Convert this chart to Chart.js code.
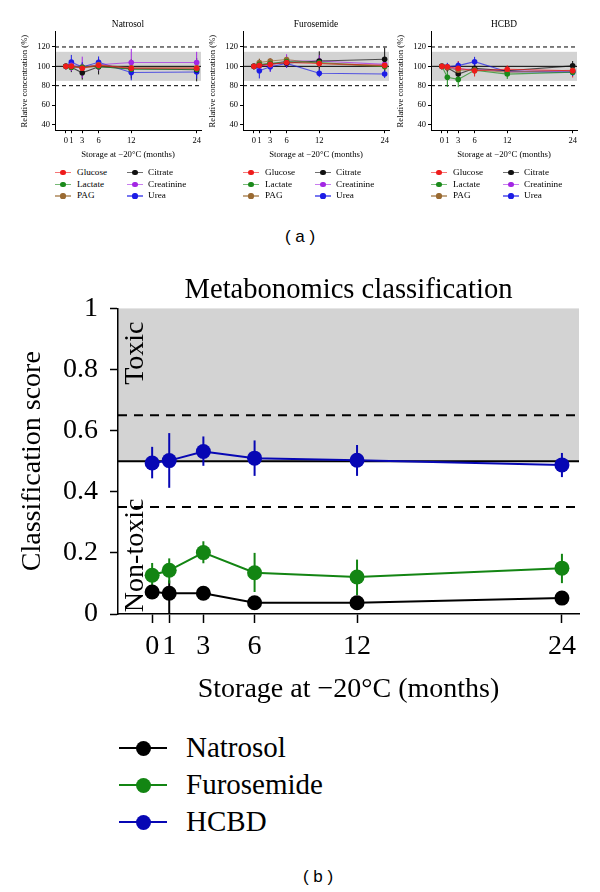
<!DOCTYPE html>
<html>
<head>
<meta charset="utf-8">
<script src="https://cdn.jsdelivr.net/npm/chart.js@4.4.0/dist/chart.umd.min.js"></script>
<style>
  body { margin: 0; background: #fff; }
  #fig { position: relative; width: 600px; height: 892px; overflow: hidden; font-family: "Liberation Serif", "DejaVu Serif", serif; color: #000; }
  canvas { position: absolute; }
  .tag { position: absolute; font-family: "Liberation Sans", Arial, sans-serif; font-size: 17px; transform: translate(-50%, -50%); white-space: pre; }
</style>
</head>
<body>
<div id="fig">
  <canvas id="natrosol" width="205" height="163" style="left:0;top:0"></canvas>
  <canvas id="furosemide" width="205" height="163" style="left:188px;top:0"></canvas>
  <canvas id="hcbd" width="205" height="163" style="left:376px;top:0"></canvas>
  <canvas id="classification" width="600" height="437" style="left:0;top:270px"></canvas>
  <div class="tag" style="left:300px;top:237px">( a )</div>
  <div class="tag" style="left:318px;top:877px">( b )</div>
</div>
<script>
const months = [0, 1, 3, 6, 12, 24];
const metabolites = ['Glucose', 'Lactate', 'PAG', 'Citrate', 'Creatinine', 'Urea'];
const metaboliteColours = ['#ee1b1b', '#1b8a1b', '#9a6a32', '#111111', '#a326e4', '#1c1ce6'];
const concTicks = [40, 60, 80, 100, 120];

// (a) relative concentration (%), one array per metabolite, +/- error
const natGlucose    = [100, 100, 98, 101, 98, 98];
const natLactate    = [100, 99, 99, 100, 97, 97];
const natPAG        = [100, 100, 99, 101.5, 98.5, 98.5];
const natCitrate    = [100, 99, 93.3, 99.6, 97.5, 96.5];
const natCreatinine = [100, 101, 99, 101.7, 104, 104];
const natUrea       = [100, 104.3, 99.3, 104.2, 93.6, 94.2];
const natErr = [[0, 3, 4, 4, 5, 5], [0, 3, 4, 4, 5, 5], [0, 3, 4, 4, 6, 6],
                [0, 5, 7, 8, 10, 12], [0, 6, 11, 6, 14, 11], [0, 7.5, 5, 6, 8, 7]];

const furGlucose    = [100, 101, 102, 104, 103, 101];
const furLactate    = [100, 102, 103, 105, 104, 100];
const furPAG        = [100, 104, 105.5, 107, 103, 99.7];
const furCitrate    = [100, 101, 103, 103.5, 105.5, 107.3];
const furCreatinine = [100, 100.7, 101.3, 105.5, 105.5, 102];
const furUrea       = [100, 95.5, 99.6, 103, 92.8, 92];
const furErr = [[0, 3, 4, 4, 5, 5], [0, 4, 4, 4, 5, 5], [0, 4, 3, 4, 4, 5],
                [0, 6, 4, 5, 10, 12], [0, 5, 7, 7, 6, 5], [0, 8, 5, 4, 4, 4]];

const hcbGlucose    = [100, 99.6, 98, 95.5, 97, 95.5];
const hcbLactate    = [100, 88.7, 86.5, 96, 92, 94];
const hcbPAG        = [100, 98.5, 96, 96.5, 94, 96];
const hcbCitrate    = [100, 98.6, 92, 98, 95.5, 100.5];
const hcbCreatinine = [100, 99, 97, 97, 95, 95];
const hcbUrea       = [100, 99.6, 100.7, 104.8, 94.5, 94];
const hcbErr = [[0, 3, 7.5, 6, 4, 7], [0, 10, 8, 4, 5, 4], [0, 3, 4, 4, 4, 4],
                [0, 4, 5, 5, 4, 5], [0, 3, 4, 4, 4, 4], [0, 4, 4, 5, 4, 4]];

// (b) classification score
const groups = ['Natrosol', 'Furosemide', 'HCBD'];
const groupColours = ['#000000', '#138513', '#0707b4'];
const natrosolScore = [0.072, 0.068, 0.068, 0.037, 0.037, 0.052];
const natrosolLow   = [0.058, 0.0, 0.056, 0.029, 0.029, 0.042];
const natrosolHigh  = [0.086, 0.11, 0.08, 0.045, 0.045, 0.062];
const furosemideScore = [0.127, 0.143, 0.201, 0.135, 0.121, 0.150];
const furosemideLow   = [0.090, 0.100, 0.166, 0.072, 0.062, 0.101];
const furosemideHigh  = [0.167, 0.182, 0.238, 0.200, 0.178, 0.197];
const hcbdScore = [0.494, 0.502, 0.532, 0.510, 0.503, 0.488];
const hcbdLow   = [0.444, 0.413, 0.485, 0.452, 0.452, 0.448];
const hcbdHigh  = [0.547, 0.592, 0.581, 0.568, 0.553, 0.527];
const scoreTicks = [0, 0.2, 0.4, 0.6, 0.8, 1];

const SERIF = '"Liberation Serif", "DejaVu Serif", serif';
Chart.defaults.animation = false;
Chart.defaults.color = '#000';

function fade(hex, a) {
  const n = parseInt(hex.slice(1), 16);
  return `rgba(${n >> 16},${(n >> 8) & 255},${n & 255},${a})`;
}

// gray band, reference lines, error bars, region labels
const refs = {
  id: 'refs',
  beforeDraw(chart, args, o) {
    const {ctx, chartArea: a, scales: {y}} = chart;
    ctx.save();
    ctx.fillStyle = '#d3d3d3';
    const t = y.getPixelForValue(o.band[1]), b = y.getPixelForValue(o.band[0]);
    ctx.fillRect(a.left, t, a.right - a.left, b - t);
    ctx.strokeStyle = '#000';
    ctx.lineWidth = o.lineWidth;
    ctx.setLineDash(o.dash);
    o.dashed.forEach(v => {
      const p = y.getPixelForValue(v);
      ctx.beginPath(); ctx.moveTo(a.left, p); ctx.lineTo(a.right, p); ctx.stroke();
    });
    ctx.setLineDash([]);
    const s = y.getPixelForValue(o.solid);
    ctx.beginPath(); ctx.moveTo(a.left, s); ctx.lineTo(a.right, s); ctx.stroke();
    (o.labels || []).forEach(l => {
      ctx.save();
      ctx.translate(a.left + l.dx, y.getPixelForValue(l.at));
      ctx.rotate(-Math.PI / 2);
      ctx.font = o.labelFont;
      ctx.fillStyle = '#000';
      ctx.textAlign = 'left';
      ctx.textBaseline = 'alphabetic';
      ctx.fillText(l.text, 0, 0);
      ctx.restore();
    });
    ctx.restore();
  },
  beforeDatasetsDraw(chart, args, o) {
    const {ctx, scales: {y}} = chart;
    ctx.save();
    chart.data.datasets.forEach((ds, i) => {
      const meta = chart.getDatasetMeta(i);
      ctx.strokeStyle = ds.backgroundColor;
      ctx.lineWidth = o.errWidth;
      meta.data.forEach((pt, j) => {
        if (ds.errHigh[j] === ds.errLow[j]) return;
        ctx.beginPath();
        ctx.moveTo(pt.x, y.getPixelForValue(ds.errLow[j]));
        ctx.lineTo(pt.x, y.getPixelForValue(ds.errHigh[j]));
        ctx.stroke();
      });
    });
    ctx.restore();
  }
};

function addKey(o) {
  const fig = document.getElementById('fig');
  const line = document.createElement('div');
  line.style.cssText = `position:absolute;left:${o.x}px;top:${o.y - o.lw / 2}px;width:${o.len}px;height:${o.lw}px;background:${o.line}`;
  const dot = document.createElement('div');
  dot.style.cssText = `position:absolute;left:${o.x + o.len / 2 - o.r}px;top:${o.y - o.r}px;width:${2 * o.r}px;height:${2 * o.r}px;border-radius:50%;background:${o.colour}`;
  const txt = document.createElement('div');
  txt.style.cssText = `position:absolute;left:${o.tx}px;top:${o.y}px;transform:translateY(-52%);font-size:${o.size}px;line-height:1;white-space:nowrap`;
  txt.textContent = o.text;
  fig.append(line, dot, txt);
}

function panel(id, left, title, values, errors) {
  new Chart(id, {
    type: 'line',
    data: {
      datasets: metabolites.map((m, i) => ({
        label: m,
        data: months.map((x, j) => ({x, y: values[i][j]})),
        errLow: values[i].map((v, j) => v - errors[i][j]),
        errHigh: values[i].map((v, j) => v + errors[i][j]),
        borderColor: fade(metaboliteColours[i], 0.7),
        backgroundColor: metaboliteColours[i],
        borderWidth: 1.1,
        pointRadius: 2.8,
        pointBorderWidth: 0,
        tension: 0
      }))
    },
    options: {
      responsive: false,
      devicePixelRatio: 1,
      layout: {padding: {right: 3}},
      plugins: {
        legend: {display: false},
        tooltip: {enabled: false},
        title: {display: true, text: title, fullSize: false, color: '#000',
                font: {family: SERIF, size: 9.4, weight: 'normal'}, padding: {top: 19, bottom: 1.7}},
        refs: {band: [85, 115], dashed: [80, 120], solid: 100, dash: [4, 3], lineWidth: 1, errWidth: 1}
      },
      scales: {
        x: {
          type: 'linear', min: -2, max: 24.8,
          afterBuildTicks: s => { s.ticks = months.map(v => ({value: v})); },
          afterFit: s => { s.height = 32.8; },
          ticks: {autoSkip: false, maxRotation: 0, padding: 2.7, font: {family: SERIF, size: 8.5}},
          grid: {drawOnChartArea: false, tickLength: 3, color: '#000'},
          border: {color: '#000', width: 1},
          title: {display: true, text: 'Storage at −20°C (months)', font: {family: SERIF, size: 8.7},
                  padding: {top: 0, bottom: 2.8}}
        },
        y: {
          min: 34, max: 135.5,
          afterBuildTicks: s => { s.ticks = concTicks.map(v => ({value: v})); },
          afterFit: s => { s.width = 55; },
          ticks: {padding: 2, font: {family: SERIF, size: 8.5}},
          grid: {drawOnChartArea: false, tickLength: 3, color: '#000'},
          border: {color: '#000', width: 1},
          title: {display: true, text: 'Relative concentration (%)', font: {family: SERIF, size: 8.6},
                  padding: {top: 19.8, bottom: 0}}
        }
      }
    },
    plugins: [refs]
  });
  const rows = [172.7, 184.5, 196];
  metabolites.forEach((m, i) => {
    const col = i < 3 ? 0 : 1, row = i % 3;
    addKey({x: left + (col ? 127 : 55), y: rows[row], len: 16, lw: 1.2, r: 2.6,
            line: fade(metaboliteColours[i], 0.6), colour: metaboliteColours[i],
            tx: left + (col ? 148 : 77), text: m, size: 9.2});
  });
}

panel('natrosol', 0, 'Natrosol',
  [natGlucose, natLactate, natPAG, natCitrate, natCreatinine, natUrea], natErr);
panel('furosemide', 188, 'Furosemide',
  [furGlucose, furLactate, furPAG, furCitrate, furCreatinine, furUrea], furErr);
panel('hcbd', 376, 'HCBD',
  [hcbGlucose, hcbLactate, hcbPAG, hcbCitrate, hcbCreatinine, hcbUrea], hcbErr);

const scores = [natrosolScore, furosemideScore, hcbdScore];
const lows = [natrosolLow, furosemideLow, hcbdLow];
const highs = [natrosolHigh, furosemideHigh, hcbdHigh];

new Chart('classification', {
  type: 'line',
  data: {
    datasets: groups.map((g, i) => ({
      label: g,
      data: months.map((x, j) => ({x, y: scores[i][j]})),
      errLow: lows[i],
      errHigh: highs[i],
      borderColor: groupColours[i],
      backgroundColor: groupColours[i],
      borderWidth: 2,
      pointRadius: 7.5,
      pointBorderWidth: 0,
      tension: 0
    }))
  },
  options: {
    responsive: false,
    devicePixelRatio: 1,
    layout: {padding: {right: 21}},
    plugins: {
      legend: {display: false},
      tooltip: {enabled: false},
      title: {display: true, text: 'Metabonomics classification', fullSize: false, color: '#000',
              font: {family: SERIF, size: 28.6, weight: 'normal'}, padding: {top: 3.2, bottom: 0.9}},
      refs: {band: [0.5, 1], dashed: [0.35, 0.65], solid: 0.5, dash: [9, 7], lineWidth: 2, errWidth: 2,
             labelFont: `28px ${SERIF}`,
             labels: [{text: 'Toxic', at: 0.75, dx: 25}, {text: 'Non-toxic', at: 0.006, dx: 25}]}
    },
    scales: {
      x: {
        type: 'linear', min: -2, max: 25,
        afterBuildTicks: s => { s.ticks = months.map(v => ({value: v})); },
        afterFit: s => { s.height = 93; },
        ticks: {autoSkip: false, maxRotation: 0, padding: 7, font: {family: SERIF, size: 28}},
        grid: {drawOnChartArea: false, tickLength: 9, tickWidth: 1.5, color: '#000'},
        border: {color: '#000', width: 1.5},
        title: {display: true, text: 'Storage at −20°C (months)', font: {family: SERIF, size: 28},
                padding: {top: 0, bottom: 0.2}}
      },
      y: {
        min: 0, max: 1,
        afterBuildTicks: s => { s.ticks = scoreTicks.map(v => ({value: v})); },
        afterFit: s => { s.width = 118; },
        ticks: {padding: 12, font: {family: SERIF, size: 28}, callback: v => String(Math.round(v * 10) / 10)},
        grid: {drawOnChartArea: false, tickLength: 8, tickWidth: 1.5, color: '#000'},
        border: {color: '#000', width: 1.5},
        title: {display: true, text: 'Classification score', font: {family: SERIF, size: 28},
                padding: {top: 16, bottom: 0}}
      }
    }
  },
  plugins: [refs]
});

const keyRows = [748, 785, 822];
groups.forEach((g, i) => {
  addKey({x: 119, y: keyRows[i], len: 48, lw: 2, r: 7.5, line: groupColours[i], colour: groupColours[i],
          tx: 186, text: g, size: 29});
});
</script>
</body>
</html>
